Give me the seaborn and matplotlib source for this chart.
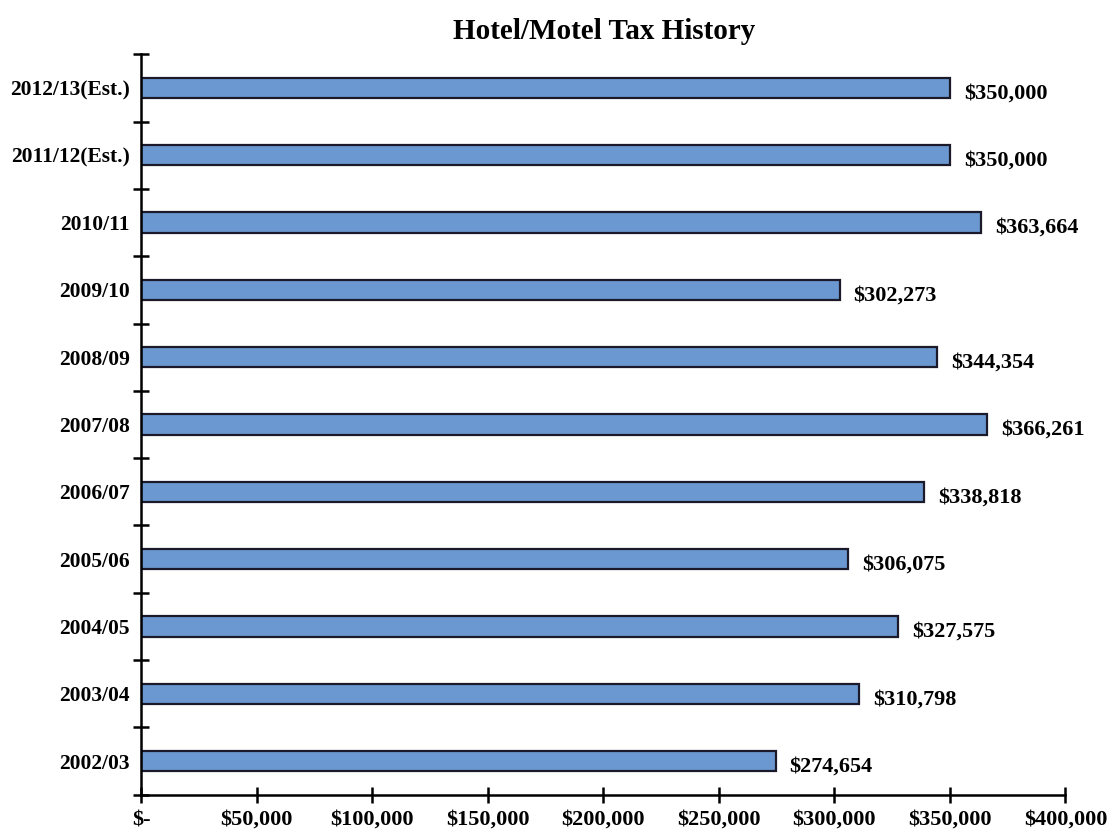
import matplotlib
matplotlib.use("Agg")
import matplotlib.pyplot as plt
from matplotlib.ticker import FuncFormatter, FixedLocator
import numpy as np
import pandas as pd
import seaborn as sns

# ── Data ──────────────────────────────────────────────────────────────────────
years = ["2012/13 (Est.)", "2011/12 (Est.)", "2010/11", "2009/10", "2008/09",
         "2007/08", "2006/07", "2005/06", "2004/05", "2003/04", "2002/03"]
tax = [350000, 350000, 363664, 302273, 344354,
       366261, 338818, 306075, 327575, 310798, 274654]
x_ticks = [0, 50000, 100000, 150000, 200000, 250000, 300000, 350000, 400000]

df = pd.DataFrame({"year": years, "tax": tax})

# ── Style ─────────────────────────────────────────────────────────────────────
sns.set_style("white")
plt.rcParams["font.family"] = ["Liberation Serif", "DejaVu Serif"]
plt.rcParams["font.weight"] = "bold"
plt.rcParams["text.color"] = "black"
plt.rcParams["xtick.color"] = "black"
plt.rcParams["ytick.color"] = "black"

BAR = "#6b98d0"
EDGE = "#1a1a2a"

fig = plt.figure(figsize=(11.11, 8.34), dpi=100)
ax = fig.add_axes([0.127, 0.047, 0.832, 0.888])

sns.barplot(data=df, x="tax", y="year", order=years, orient="h",
            color=BAR, edgecolor=EDGE, linewidth=1.6, width=0.3,
            saturation=1, ax=ax)

for i, v in enumerate(tax):
    ax.text(v + 6000, i + 0.08, f"${v:,.0f}", va="center", ha="left",
            fontsize=16, fontweight="bold", color="black")

# ── Axes ──────────────────────────────────────────────────────────────────────
ax.set_xlim(0, 400000)
ax.set_ylim(len(years) - 0.5, -0.5)
ax.set_xticks(x_ticks)
ax.xaxis.set_major_formatter(
    FuncFormatter(lambda v, _: "$-" if v == 0 else f"${v:,.0f}"))

# category boundaries carry the tick marks, centres carry the labels
ax.yaxis.set_major_locator(FixedLocator(np.arange(-0.5, len(years), 1.0)))
ax.yaxis.set_minor_locator(FixedLocator(np.arange(len(years))))
ax.set_yticklabels([], minor=False)
ax.set_yticklabels([y.replace(" (", "(") for y in years], minor=True)
ax.tick_params(axis="y", which="major", left=True, direction="inout",
               length=12, width=1.8, color="black")
ax.tick_params(axis="y", which="minor", left=True, length=0, pad=8,
               labelsize=15.5, labelcolor="black")
ax.tick_params(axis="x", bottom=True, direction="inout", length=12,
               width=1.8, color="black", labelsize=16, labelcolor="black",
               pad=5)

for side in ["top", "right"]:
    ax.spines[side].set_visible(False)
for side in ["left", "bottom"]:
    ax.spines[side].set_color("black")
    ax.spines[side].set_linewidth(1.8)

ax.set_xlabel("")
ax.set_ylabel("")
fig.text(0.544, 0.962, "Hotel/Motel Tax History", ha="center", va="center",
         fontsize=21, fontweight="bold", color="black")

plt.savefig("out.png", dpi=100, facecolor="white")
plt.close()
